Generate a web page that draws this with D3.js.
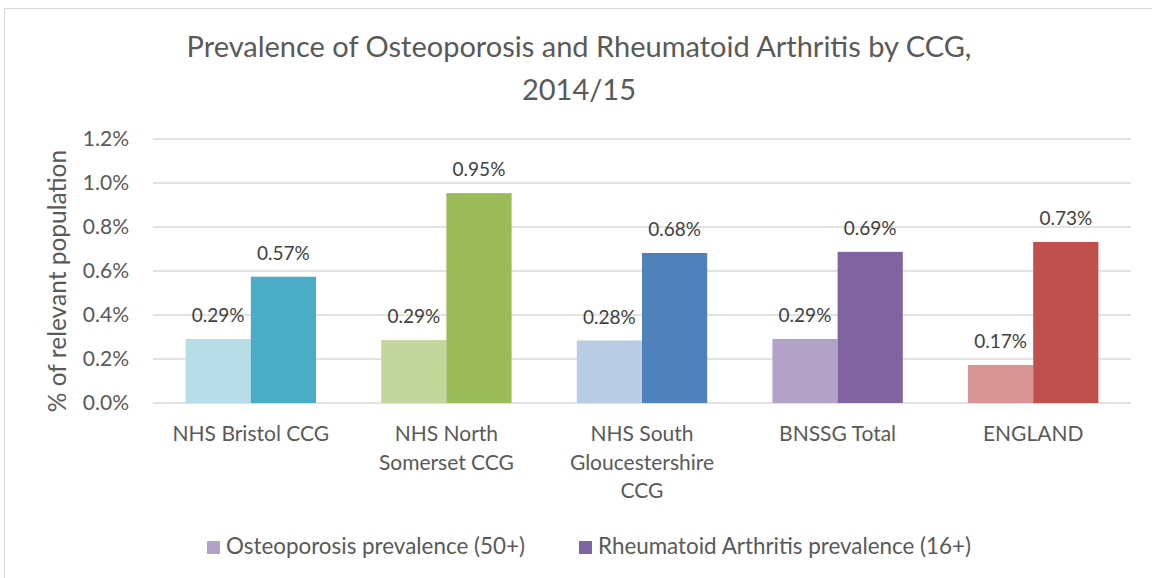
<!DOCTYPE html>
<html>
<head>
<meta charset="utf-8">
<script src="https://cdnjs.cloudflare.com/ajax/libs/d3/7.8.5/d3.min.js"></script>
<style>
  body { margin: 0; background: #fff; }
  svg { display: block; font-family: Lato, "Open Sans", sans-serif; }
</style>
</head>
<body>
<svg id="chart" width="1152" height="578"></svg>
<script>
// chart data
var categories = ['NHS Bristol CCG', 'NHS North Somerset CCG', 'NHS South Gloucestershire CCG', 'BNSSG Total', 'ENGLAND'];
var categoryLines = [['NHS Bristol CCG'], ['NHS North', 'Somerset CCG'], ['NHS South', 'Gloucestershire', 'CCG'], ['BNSSG Total'], ['ENGLAND']];
var seriesNames = ['Osteoporosis prevalence (50+)', 'Rheumatoid Arthritis prevalence (16+)'];
var osteoValues = [0.291, 0.286, 0.284, 0.291, 0.173];
var raValues = [0.574, 0.954, 0.682, 0.687, 0.732];
var yTicks = [0, 0.2, 0.4, 0.6, 0.8, 1.0, 1.2];

// one light / dark pair per category, as in the source sheet
var lightColors = ['#b7dde8', '#c3d69b', '#b9cde5', '#b3a2c7', '#d99694'];
var darkColors = ['#4bacc6', '#9bbb59', '#4f81bd', '#8064a2', '#c0504d'];

var svg = d3.select('#chart');
var plot = { left: 153, right: 1131, top: 139, bottom: 403 };

// outer frame of the chart object
svg.append('rect')
    .attr('x', 4.5).attr('y', 8.5)
    .attr('width', 1160).attr('height', 600)
    .attr('fill', '#fff')
    .attr('stroke', '#d9d9d9').attr('stroke-width', 1);

var title = svg.append('text')
    .attr('text-anchor', 'middle')
    .attr('fill', '#595959')
    .attr('font-size', 29);
title.append('tspan').attr('x', 579).attr('y', 57).text('Prevalence of Osteoporosis and Rheumatoid Arthritis by CCG,');
title.append('tspan').attr('x', 579).attr('y', 100).text('2014/15');

var x = d3.scaleBand().domain(categories).range([plot.left, plot.right]).padding(0);
var xInner = d3.scaleBand().domain([0, 1]).range([x.bandwidth() / 6, x.bandwidth() * 5 / 6]).padding(0);
var y = d3.scaleLinear().domain([0, 1.2]).range([plot.bottom, plot.top]);

// gridlines
svg.append('g').selectAll('line')
    .data(yTicks)
    .join('line')
    .attr('x1', plot.left).attr('x2', plot.right)
    .attr('y1', function (d) { return y(d); })
    .attr('y2', function (d) { return y(d); })
    .attr('stroke', '#d9d9d9')
    .attr('stroke-width', 1.4);

// y axis labels
var yAxis = svg.append('g')
    .attr('transform', 'translate(' + (plot.left - 21) + ',0)')
    .call(d3.axisLeft(y).tickValues(yTicks).tickSize(0).tickFormat(function (d) { return d.toFixed(1) + '%'; }));
yAxis.select('.domain').remove();
yAxis.selectAll('text')
    .attr('font-family', 'Lato, "Open Sans", sans-serif')
    .attr('font-size', 21)
    .attr('fill', '#595959');

svg.append('text')
    .attr('transform', 'translate(66,281) rotate(-90)')
    .attr('text-anchor', 'middle')
    .attr('fill', '#595959')
    .attr('font-size', 24.5)
    .text('% of relevant population');

// bars
var rows = categories.map(function (c, i) {
    return { cat: c, i: i, vals: [osteoValues[i], raValues[i]] };
});

var groups = svg.append('g').selectAll('g')
    .data(rows)
    .join('g')
    .attr('transform', function (d) { return 'translate(' + x(d.cat) + ',0)'; });

groups.selectAll('rect')
    .data(function (d) { return d.vals.map(function (v, k) { return { v: v, k: k, i: d.i }; }); })
    .join('rect')
    .attr('x', function (d) { return xInner(d.k); })
    .attr('width', xInner.bandwidth())
    .attr('y', function (d) { return y(d.v); })
    .attr('height', function (d) { return y(0) - y(d.v); })
    .attr('fill', function (d) { return d.k === 0 ? lightColors[d.i] : darkColors[d.i]; });

groups.selectAll('text.val')
    .data(function (d) { return d.vals.map(function (v, k) { return { v: v, k: k }; }); })
    .join('text')
    .attr('class', 'val')
    .attr('x', function (d) { return xInner(d.k) + xInner.bandwidth() / 2; })
    .attr('y', function (d) { return y(d.v) - 17; })
    .attr('text-anchor', 'middle')
    .attr('fill', '#404040')
    .attr('font-size', 19)
    .text(function (d) { return d.v.toFixed(2) + '%'; });

// category labels, wrapped like Excel does
var catLabels = svg.append('g').selectAll('text')
    .data(categories)
    .join('text')
    .attr('text-anchor', 'middle')
    .attr('fill', '#595959')
    .attr('font-size', 21);
catLabels.each(function (c, i) {
    var t = d3.select(this);
    categoryLines[i].forEach(function (line, j) {
        t.append('tspan')
            .attr('x', x(c) + x.bandwidth() / 2)
            .attr('y', 441 + j * 28.5)
            .text(line);
    });
});

// legend
var legendX = [207, 579];
var legend = svg.append('g').selectAll('g')
    .data(seriesNames)
    .join('g')
    .attr('transform', function (d, k) { return 'translate(' + legendX[k] + ',541)'; });
legend.append('rect')
    .attr('width', 13).attr('height', 13)
    .attr('fill', function (d, k) { return k === 0 ? lightColors[3] : darkColors[3]; });
legend.append('text')
    .attr('x', 19).attr('y', 12.5)
    .attr('fill', '#595959')
    .attr('font-size', 22.4)
    .text(function (d) { return d; });
</script>
</body>
</html>
